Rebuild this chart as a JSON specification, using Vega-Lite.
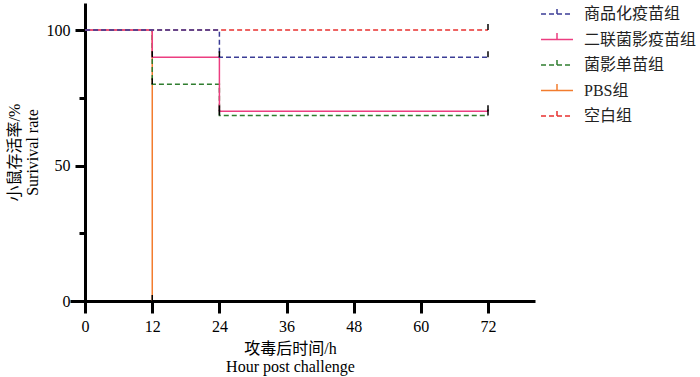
{
  "$schema": "https://vega.github.io/schema/vega-lite/v6.json",
  "width": 465,
  "height": 298,
  "autosize": {"type": "none"},
  "padding": {"left": 70, "top": 3, "right": 165, "bottom": 76},
  "background": "white",
  "config": {
    "view": {"stroke": null},
    "font": "Liberation Serif, Noto Sans CJK SC",
    "axis": {"grid": false, "domainColor": "black", "tickColor": "black", "labelColor": "black", "titleColor": "black", "labelFont": "Liberation Serif", "titleFont": "Liberation Serif, Noto Sans CJK SC", "titleFontWeight": "normal", "labelFontSize": 16, "titleFontSize": 16}
  },
  "datasets": {
    "lines": [
      {"group": "空白组", "hour": 0, "rate": 100},
      {"group": "空白组", "hour": 72, "rate": 100},
      {"group": "PBS组", "hour": 0, "rate": 100},
      {"group": "PBS组", "hour": 12, "rate": 0},
      {"group": "菌影单苗组", "hour": 0, "rate": 100},
      {"group": "菌影单苗组", "hour": 12, "rate": 80},
      {"group": "菌影单苗组", "hour": 24, "rate": 68.5},
      {"group": "菌影单苗组", "hour": 72, "rate": 68.5},
      {"group": "二联菌影疫苗组", "hour": 0, "rate": 100},
      {"group": "二联菌影疫苗组", "hour": 12, "rate": 90},
      {"group": "二联菌影疫苗组", "hour": 24, "rate": 70},
      {"group": "二联菌影疫苗组", "hour": 72, "rate": 70},
      {"group": "商品化疫苗组", "hour": 0, "rate": 100},
      {"group": "商品化疫苗组", "hour": 24, "rate": 90},
      {"group": "商品化疫苗组", "hour": 72, "rate": 90}
    ],
    "censor": [
      {"group": "商品化疫苗组", "hour": 24, "rate": 90},
      {"group": "商品化疫苗组", "hour": 72, "rate": 90},
      {"group": "二联菌影疫苗组", "hour": 12, "rate": 90},
      {"group": "二联菌影疫苗组", "hour": 24, "rate": 70},
      {"group": "二联菌影疫苗组", "hour": 72, "rate": 70},
      {"group": "菌影单苗组", "hour": 12, "rate": 80},
      {"group": "菌影单苗组", "hour": 24, "rate": 68.5},
      {"group": "菌影单苗组", "hour": 72, "rate": 68.5},
      {"group": "PBS组", "hour": 12, "rate": 0},
      {"group": "空白组", "hour": 72, "rate": 100}
    ]
  },
  "layer": [
    {
      "data": {"name": "lines"},
      "mark": {"type": "line", "interpolate": "step-after", "strokeWidth": 1.5, "clip": false},
      "encoding": {
        "x": {"field": "hour", "type": "quantitative",
          "scale": {"domain": [-2.7, 80.4], "nice": false, "zero": false},
          "axis": {"values": [0, 12, 24, 36, 48, 60, 72], "domainWidth": 3, "tickWidth": 3, "tickSize": 12, "labelPadding": 5, "labelFlush": false, "title": ["攻毒后时间/h", "Hour post challenge"], "titleX": 220, "titleLineHeight": 18, "titlePadding": 6}},
        "y": {"field": "rate", "type": "quantitative",
          "scale": {"domain": [0, 110], "nice": false},
          "axis": {"values": [0, 25, 50, 75, 100], "offset": -15, "domainWidth": 3, "tickWidth": 3,
            "tickSize": {"condition": {"test": "datum.value % 50 == 0", "value": 10}, "value": 6},
            "labelExpr": "datum.value % 50 == 0 ? datum.label : ''", "labelPadding": 5, "labelFlush": false,
            "title": ["小鼠存活率/%", "Surivival rate"], "titleLineHeight": 18, "titlePadding": 6}},
        "color": {"field": "group", "type": "nominal",
          "scale": {"domain": ["商品化疫苗组", "二联菌影疫苗组", "菌影单苗组", "PBS组", "空白组"], "range": ["#3b3d96", "#ec3d80", "#2f7d2f", "#f27c2e", "#e8312f"]},
          "legend": {"title": null, "orient": "none", "legendX": 473, "legendY": -3, "symbolType": "M-1.23,0H1.23M0,0V-0.5", "symbolSize": 676, "symbolStrokeWidth": 1.5, "symbolFillColor": "transparent", "labelFontSize": 16, "labelFont": "Liberation Serif, Noto Sans CJK SC", "labelColor": "#222", "labelOffset": 13, "rowPadding": 3.5, "padding": 0}},
        "strokeDash": {"field": "group", "type": "nominal",
          "scale": {"domain": ["商品化疫苗组", "二联菌影疫苗组", "菌影单苗组", "PBS组", "空白组"], "range": [[5, 3], [1, 0], [5, 3], [1, 0], [5, 3]]},
          "legend": {"title": null, "orient": "none", "legendX": 473, "legendY": -3}}
      }
    },
    {
      "data": {"name": "censor"},
      "mark": {"type": "tick", "orient": "vertical", "color": "black", "thickness": 1.5, "size": 6, "yOffset": -3, "opacity": 1, "clip": false},
      "encoding": {
        "x": {"field": "hour", "type": "quantitative"},
        "y": {"field": "rate", "type": "quantitative"}
      }
    }
  ]
}
